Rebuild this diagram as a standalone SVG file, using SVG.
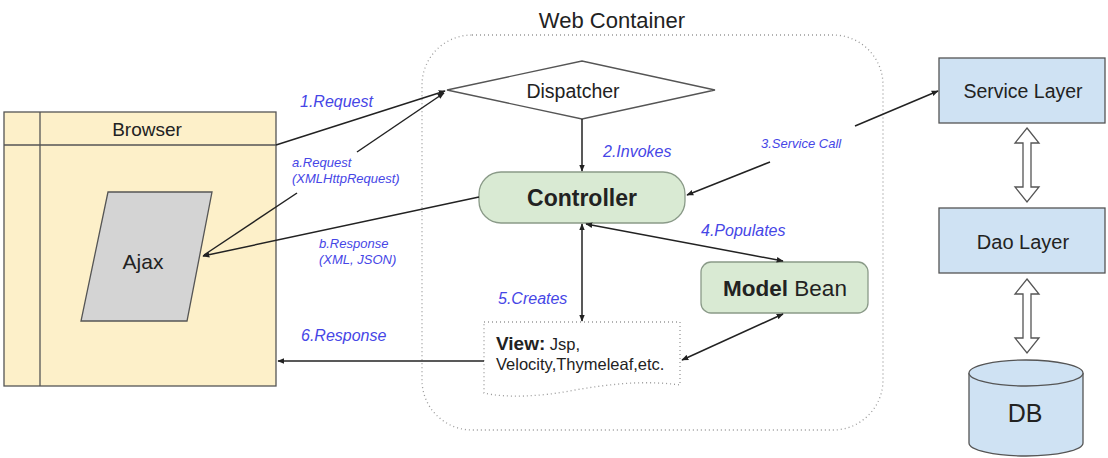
<svg xmlns="http://www.w3.org/2000/svg" width="1108" height="458" viewBox="0 0 1108 458">
<style>
text{font-family:"Liberation Sans",Arial,sans-serif;fill:#222}
.lbl{fill:#4646e6;font-style:italic;font-size:16px}
.sm{fill:#4646e6;font-style:italic;font-size:13px}
.conn{stroke:#222;stroke-width:1.5;fill:none}
.box{stroke:#555;stroke-width:1.3}
.dot{fill:none;stroke:#999;stroke-width:1.3;stroke-dasharray:1 3}
</style>
<defs>
<marker id="ah" viewBox="0 0 10 10" refX="9" refY="5" markerWidth="7" markerHeight="7" orient="auto-start-reverse" markerUnits="userSpaceOnUse">
<path d="M0,1 L10,5 L0,9 Z" fill="#222"/>
</marker>
</defs>
<rect width="1108" height="458" fill="#fff"/>

<g id="web-container">
<rect x="422" y="35" width="461" height="395" rx="50" class="dot"/>
<text x="612" y="28" font-size="22" text-anchor="middle">Web Container</text>
</g>

<g id="browser">
<rect x="4" y="112" width="272" height="274" fill="#fdf0c9" class="box"/>
<line x1="40" y1="112" x2="40" y2="386" class="box"/>
<line x1="4" y1="145" x2="276" y2="145" class="box"/>
<text x="147" y="136" font-size="19" text-anchor="middle">Browser</text>
</g>

<g id="ajax">
<polygon points="108,192 212,192 187,321 81,321" fill="#d4d4d4" class="box"/>
<text x="143" y="269" font-size="21" text-anchor="middle">Ajax</text>
</g>

<g id="dispatcher">
<polygon points="447,90 582,61 715,90 582,119" fill="#fff" class="box"/>
<text x="573" y="98" font-size="19.5" text-anchor="middle">Dispatcher</text>
</g>

<g id="controller">
<rect x="479" y="172" width="206" height="51" rx="22" fill="#d9ead3" stroke="#8a9a88" stroke-width="1.3"/>
<text x="582" y="206" font-size="23" font-weight="bold" text-anchor="middle">Controller</text>
</g>

<g id="model-bean">
<rect x="701" y="262" width="167" height="51" rx="10" fill="#d9ead3" stroke="#8a9a88" stroke-width="1.3"/>
<text x="785" y="296" font-size="22.5" text-anchor="middle"><tspan font-weight="bold">Model</tspan> Bean</text>
</g>

<g id="view">
<path d="M484,322 H680 V385 C645,380 610,384 575,390 C540,397 505,398 484,393 Z" class="dot"/>
<text x="496" y="350" font-size="16.5"><tspan font-weight="bold" font-size="19">View:</tspan> Jsp,</text>
<text x="496" y="370" font-size="16.5">Velocity,Thymeleaf,etc.</text>
</g>

<g id="service-layer">
<rect x="939" y="58" width="166" height="65" fill="#cfe2f3" class="box"/>
<text x="1023" y="98" font-size="19.5" text-anchor="middle">Service Layer</text>
</g>

<g id="dao-layer">
<rect x="939" y="208" width="166" height="65" fill="#cfe2f3" class="box"/>
<text x="1023" y="249" font-size="20" text-anchor="middle">Dao Layer</text>
</g>

<g id="db">
<path d="M969,373 V443 A57,13 0 0 0 1083,443 V373" fill="#cfe2f3" class="box"/>
<ellipse cx="1026" cy="373" rx="57" ry="13" fill="#cfe2f3" class="box"/>
<text x="1025" y="422" font-size="25" text-anchor="middle">DB</text>
</g>

<g id="connectors">
<line x1="276" y1="145" x2="445" y2="91" class="conn" marker-end="url(#ah)"/>
<text x="300" y="107" class="lbl">1.Request</text>

<line x1="204" y1="255" x2="297" y2="193" class="conn"/>
<line x1="357" y1="152" x2="444" y2="93" class="conn" marker-end="url(#ah)"/>
<text x="292" y="167" class="sm">a.Request</text>
<text x="292" y="183" class="sm">(XMLHttpRequest)</text>

<line x1="479" y1="197" x2="203" y2="256" class="conn" marker-end="url(#ah)"/>
<text x="319" y="248" class="sm">b.Response</text>
<text x="319" y="264" class="sm">(XML, JSON)</text>

<line x1="582" y1="119" x2="582" y2="171" class="conn" marker-end="url(#ah)"/>
<text x="603" y="157" class="lbl">2.Invokes</text>

<line x1="770" y1="162" x2="687" y2="195" class="conn" marker-end="url(#ah)"/>
<line x1="855" y1="126" x2="938" y2="91" class="conn" marker-end="url(#ah)"/>
<text x="761" y="148" class="sm">3.Service Call</text>

<line x1="586" y1="224" x2="783" y2="261" class="conn" marker-start="url(#ah)" marker-end="url(#ah)"/>
<text x="701" y="236" class="lbl">4.Populates</text>

<line x1="582" y1="224" x2="582" y2="321" class="conn" marker-start="url(#ah)" marker-end="url(#ah)"/>
<text x="498" y="304" class="lbl">5.Creates</text>

<line x1="682" y1="360" x2="783" y2="314" class="conn" marker-start="url(#ah)" marker-end="url(#ah)"/>

<line x1="484" y1="361" x2="278" y2="361" class="conn" marker-end="url(#ah)"/>
<text x="301" y="341" class="lbl">6.Response</text>

<polygon points="1027,128 1039,143 1031,143 1031,187 1039,187 1027,202 1015,187 1023,187 1023,143 1015,143" fill="#fff" stroke="#555" stroke-width="1.3"/>
<polygon points="1027,279 1039,294 1031,294 1031,338 1039,338 1027,353 1015,338 1023,338 1023,294 1015,294" fill="#fff" stroke="#555" stroke-width="1.3"/>
</g>
</svg>
